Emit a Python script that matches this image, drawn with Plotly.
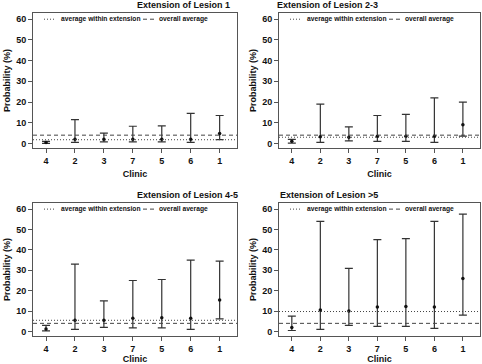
import plotly.graph_objects as go

clinics = ["4", "2", "3", "7", "5", "6", "1"]
titles = ["Extension of Lesion 1", "Extension of Lesion 2-3",
          "Extension of Lesion 4-5", "Extension of Lesion >5"]

est_1 = [0.5, 2.0, 2.0, 2.0, 2.0, 2.0, 4.8]
lo_1 = [0.0, 0.5, 0.8, 0.8, 0.8, 0.5, 1.8]
hi_1 = [1.0, 11.5, 5.0, 8.3, 8.5, 14.5, 13.5]

est_23 = [1.0, 3.2, 3.0, 3.5, 3.5, 3.5, 9.0]
lo_23 = [0.2, 0.5, 1.2, 1.0, 1.0, 0.5, 3.5]
hi_23 = [2.0, 19.0, 8.0, 13.5, 14.0, 22.0, 20.0]

est_45 = [1.2, 5.5, 5.5, 6.5, 6.8, 6.5, 15.5]
lo_45 = [0.3, 1.0, 2.0, 1.8, 1.8, 1.0, 6.2]
hi_45 = [3.0, 33.0, 15.0, 25.0, 25.5, 35.0, 34.5]

est_5p = [2.0, 10.5, 10.0, 12.0, 12.3, 12.0, 26.0]
lo_5p = [0.5, 1.0, 3.0, 2.5, 2.5, 1.5, 8.0]
hi_5p = [7.5, 54.0, 31.0, 45.0, 45.5, 54.0, 57.5]

within_avg = [1.8, 3.0, 5.5, 9.8]
overall_avg = 4.0

y_ticks = [0, 10, 20, 30, 40, 50, 60]

panels = [(est_1, lo_1, hi_1), (est_23, lo_23, hi_23),
          (est_45, lo_45, hi_45), (est_5p, lo_5p, hi_5p)]

W, H = 482, 364
boxes = [  # left, top, right, bottom in px
    (33, 13, 237, 148),
    (279, 13, 480, 148),
    (33, 203, 237, 336),
    (279, 203, 480, 336),
]

FONT = "Arial, Liberation Sans, sans-serif"
INK = "#111111"
LINE = "#333333"

fig = go.Figure()
layout = dict(width=W, height=H, margin=dict(l=0, r=0, t=0, b=0, autoexpand=False),
              paper_bgcolor="white", plot_bgcolor="white",
              showlegend=False, font=dict(family=FONT, color=INK))
shapes = []
annotations = []

for i, ((est, lo, hi), (l, t, r, b)) in enumerate(zip(panels, boxes)):
    n = i + 1
    xa = "xaxis" if n == 1 else f"xaxis{n}"
    ya = "yaxis" if n == 1 else f"yaxis{n}"
    xr = "x" if n == 1 else f"x{n}"
    yr = "y" if n == 1 else f"y{n}"
    plus = [h - e for h, e in zip(hi, est)]
    minus = [e - lo_ for e, lo_ in zip(est, lo)]
    fig.add_trace(go.Scatter(
        x=clinics, y=est, mode="markers", xaxis=xr, yaxis=yr,
        marker=dict(size=3.5, color=INK),
        error_y=dict(type="data", symmetric=False, array=plus,
                     arrayminus=minus, color=LINE, thickness=1.2, width=4),
    ))
    layout[xa] = dict(
        domain=[l / W, r / W], anchor=yr, type="category",
        categoryorder="array", categoryarray=clinics, automargin=False,
        range=[-0.45, 6.6], showline=True, mirror=True, linecolor="#555555",
        linewidth=1, ticks="outside", ticklen=4, tickcolor="#555555",
        tickfont=dict(size=9, family=FONT, weight="bold", color=INK),
        showgrid=False, zeroline=False,
        title=dict(text="Clinic", standoff=5,
                   font=dict(size=9, family=FONT, weight="bold", color=INK)),
    )
    layout[ya] = dict(
        domain=[1 - b / H, 1 - t / H], anchor=xr, automargin=False,
        range=[-2.2, 63], tickvals=y_ticks, showline=True, mirror=True,
        linecolor="#555555", linewidth=1, ticks="outside", ticklen=4,
        tickcolor="#555555", showgrid=False, zeroline=False,
        tickfont=dict(size=9, family=FONT, weight="bold", color=INK),
        title=dict(text="Probability (%)", standoff=4,
                   font=dict(size=9, family=FONT, weight="bold", color=INK)),
    )
    # average lines
    shapes.append(dict(type="line", xref=f"{xr} domain", yref=yr,
                       x0=0, x1=1, y0=within_avg[i], y1=within_avg[i],
                       line=dict(color="#444444", width=1, dash="1px,2px")))
    shapes.append(dict(type="line", xref=f"{xr} domain", yref=yr,
                       x0=0, x1=1, y0=overall_avg, y1=overall_avg,
                       line=dict(color="#444444", width=1, dash="4px,3px")))
    # legend
    w = r - l
    ly = 60
    shapes.append(dict(type="line", xref=f"{xr} domain", yref=yr,
                       x0=11 / w, x1=23 / w, y0=ly, y1=ly,
                       line=dict(color="#444444", width=1, dash="1px,2px")))
    shapes.append(dict(type="line", xref=f"{xr} domain", yref=yr,
                       x0=110 / w, x1=122 / w, y0=ly, y1=ly,
                       line=dict(color="#444444", width=1, dash="4px,3px")))
    annotations.append(dict(text="average within extension", xref=f"{xr} domain",
                            yref=yr, x=26 / w, y=ly, xanchor="left", showarrow=False,
                            font=dict(size=6.7, family=FONT, weight="bold", color=INK)))
    annotations.append(dict(text="overall average", xref=f"{xr} domain",
                            yref=yr, x=124 / w, y=ly, xanchor="left", showarrow=False,
                            font=dict(size=6.7, family=FONT, weight="bold", color=INK)))
    # title
    annotations.append(dict(text=titles[i], xref="paper", yref="paper",
                            x=(l + r) / 2 / W, y=1 - (t - 8) / H, yanchor="middle",
                            showarrow=False,
                            font=dict(size=9, family=FONT, weight="bold", color=INK)))

layout["shapes"] = shapes
layout["annotations"] = annotations
fig.update_layout(**layout)
fig.write_html("out.html", config={"displayModeBar": False},
               post_script="document.body.style.margin='0px';document.body.style.overflow='hidden';")
